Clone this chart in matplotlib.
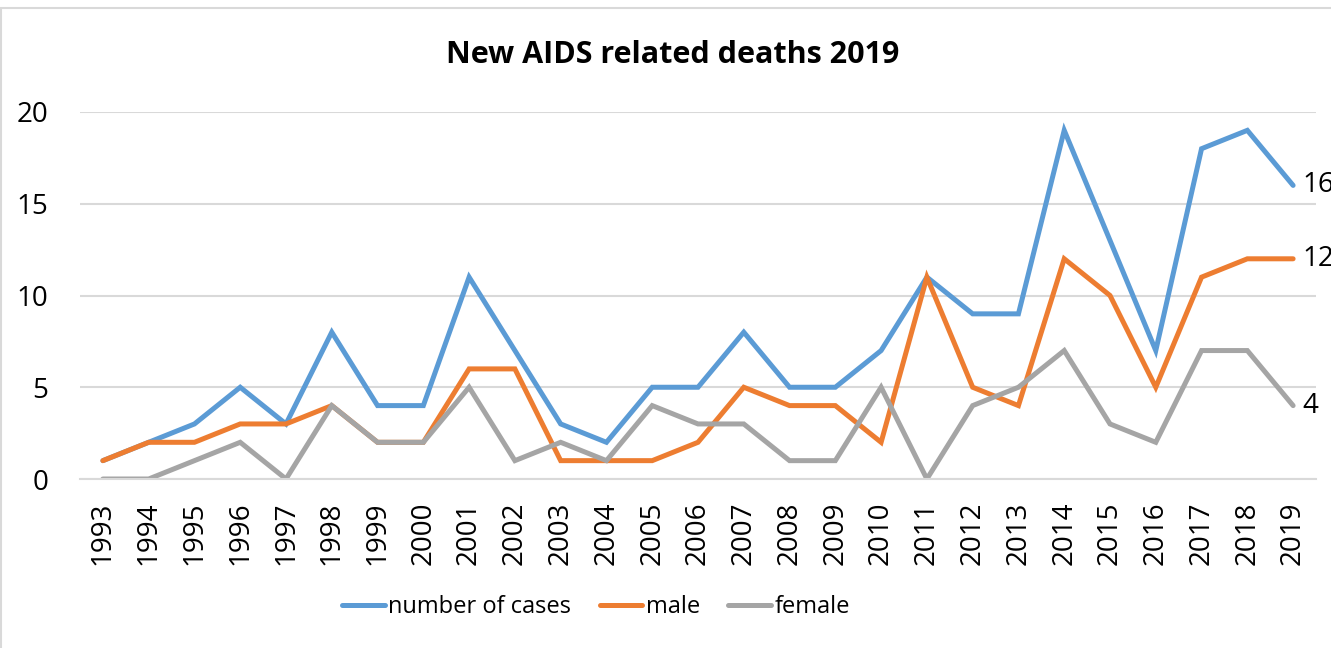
#!/usr/bin/env python3

import matplotlib.pyplot as plt
from matplotlib.patches import Rectangle

# Yearly counts
years = [str(y) for y in range(1993, 2020)]
total_cases = [1, 2, 3, 5, 3, 8, 4, 4, 11, 7, 3, 2, 5, 5, 8, 5, 5, 7, 11, 9, 9, 19, 13, 7, 18, 19, 16]
male = [1, 2, 2, 3, 3, 4, 2, 2, 6, 6, 1, 1, 1, 2, 5, 4, 4, 2, 11, 5, 4, 12, 10, 5, 11, 12, 12]
female = [0, 0, 1, 2, 0, 4, 2, 2, 5, 1, 2, 1, 4, 3, 3, 1, 1, 5, 0, 4, 5, 7, 3, 2, 7, 7, 4]

series = [
    ("number of cases", total_cases, "#5B9BD5"),
    ("male", male, "#ED7D31"),
    ("female", female, "#A5A5A5"),
]

plt.rcParams['font.family'] = ['Open Sans', 'DejaVu Sans']

W, H = 1331, 648
fig = plt.figure(figsize=(W / 100, H / 100), dpi=100)

# light frame around the chart area
fig.patches.append(Rectangle((1 / W, -0.1), 1.2, 1 - 8 / H + 0.1, transform=fig.transFigure,
                             fill=False, edgecolor="#D9D9D9", linewidth=1.5))

ax = fig.add_axes([80 / W, 1 - 479 / H, (1316 - 80) / W, (479 - 112) / H])

x = list(range(len(years)))
for label, values, color in series:
    ax.plot(x, values, color=color, linewidth=3.6, label=label,
            solid_joinstyle='miter', solid_capstyle='round')
    ax.annotate(str(values[-1]), (x[-1], values[-1]), xytext=(7, 0),
                textcoords='offset points', va='center', ha='left',
                fontsize=20, annotation_clip=False)

ax.set_xlim(-0.5, len(years) - 0.5)
ax.set_ylim(0, 20)
ax.set_yticks([0, 5, 10, 15, 20])
ax.set_xticks(x)
ax.set_xticklabels(years, rotation=90)
ax.tick_params(axis='both', length=0, labelsize=20)
ax.tick_params(axis='y', pad=23)
ax.tick_params(axis='x', pad=16)
ax.grid(axis='y', color='#D9D9D9', linewidth=1.5)
ax.set_axisbelow(True)
for side in ['top', 'right', 'left']:
    ax.spines[side].set_visible(False)
ax.spines['bottom'].set_color('#D9D9D9')
ax.spines['bottom'].set_linewidth(1.5)

fig.text(673 / W, 1 - 55 / H, "New AIDS related deaths 2019", ha='center', va='center',
         fontsize=22, fontweight='bold')

fig.legend(loc='center', bbox_to_anchor=(596 / W, 1 - 607 / H), ncol=3, frameon=False,
           fontsize=17, handlelength=1.8, handletextpad=0.15, columnspacing=1.2)

fig.savefig('out.png', dpi=100)
